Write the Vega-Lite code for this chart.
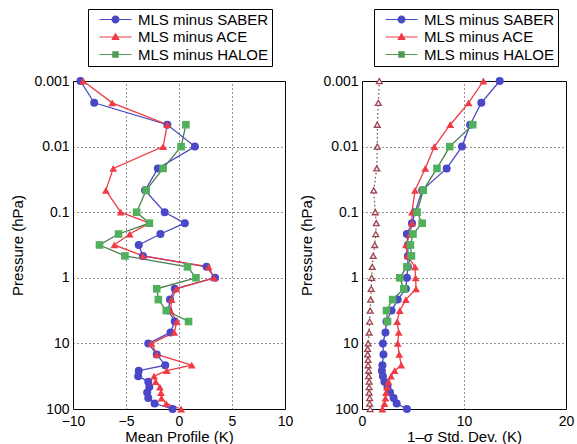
{
  "$schema": "https://vega.github.io/schema/vega-lite/v6.json",
  "background": "white",
  "padding": {"left": 10, "top": 8, "right": 0, "bottom": 0},
  "spacing": 5,
  "config": {
    "view": {"stroke": "black", "strokeWidth": 1},
    "axis": {
      "domain": false, "ticks": false, "grid": true,
      "gridDash": [1, 3], "gridColor": "#222", "gridWidth": 1,
      "labelFont": "Liberation Sans", "labelFontSize": 14, "labelColor": "black",
      "labelFlush": false, "labelOverlap": false, "labelPadding": 4,
      "titleFont": "Liberation Sans", "titleFontSize": 15, "titleFontWeight": "normal", "titleColor": "black"
    },
    "axisX": {"labelPadding": 5},
    "legend": {
      "orient": "none", "title": null,
      "strokeColor": "black", "fillColor": "white", "padding": 3,
      "labelFont": "Liberation Sans", "labelFontSize": 15, "labelColor": "black",
      "symbolSize": 100, "symbolOffset": 17, "labelOffset": 15, "rowPadding": 1.5,
      "symbolOpacity": 1, "symbolStrokeWidth": 0
    }
  },
  "datasets": {
    "mean": [
      {"series": "MLS minus SABER", "p": 0.001, "v": -9.3},
      {"series": "MLS minus SABER", "p": 0.00215, "v": -8.0},
      {"series": "MLS minus SABER", "p": 0.00464, "v": -1.1},
      {"series": "MLS minus SABER", "p": 0.01, "v": 1.5},
      {"series": "MLS minus SABER", "p": 0.0215, "v": -2.0},
      {"series": "MLS minus SABER", "p": 0.0464, "v": -3.2},
      {"series": "MLS minus SABER", "p": 0.1, "v": -1.35},
      {"series": "MLS minus SABER", "p": 0.147, "v": 0.55},
      {"series": "MLS minus SABER", "p": 0.215, "v": -1.75},
      {"series": "MLS minus SABER", "p": 0.316, "v": -3.8},
      {"series": "MLS minus SABER", "p": 0.464, "v": -3.4},
      {"series": "MLS minus SABER", "p": 0.681, "v": 2.6},
      {"series": "MLS minus SABER", "p": 1.0, "v": 3.4},
      {"series": "MLS minus SABER", "p": 1.47, "v": -0.4},
      {"series": "MLS minus SABER", "p": 2.15, "v": -0.85},
      {"series": "MLS minus SABER", "p": 3.16, "v": -1.0},
      {"series": "MLS minus SABER", "p": 4.64, "v": -0.4},
      {"series": "MLS minus SABER", "p": 6.81, "v": -0.8},
      {"series": "MLS minus SABER", "p": 10, "v": -2.9},
      {"series": "MLS minus SABER", "p": 14.7, "v": -2.1},
      {"series": "MLS minus SABER", "p": 21.5, "v": -1.3},
      {"series": "MLS minus SABER", "p": 26.1, "v": -3.8},
      {"series": "MLS minus SABER", "p": 31.6, "v": -3.85},
      {"series": "MLS minus SABER", "p": 38.3, "v": -2.9},
      {"series": "MLS minus SABER", "p": 46.4, "v": -2.8},
      {"series": "MLS minus SABER", "p": 56.2, "v": -3.0},
      {"series": "MLS minus SABER", "p": 68.1, "v": -2.9},
      {"series": "MLS minus SABER", "p": 82.5, "v": -2.3},
      {"series": "MLS minus SABER", "p": 100, "v": -0.6},
      {"series": "MLS minus ACE", "p": 0.001, "v": -9.05},
      {"series": "MLS minus ACE", "p": 0.00215, "v": -6.3},
      {"series": "MLS minus ACE", "p": 0.00464, "v": -1.1},
      {"series": "MLS minus ACE", "p": 0.01, "v": -1.5},
      {"series": "MLS minus ACE", "p": 0.0215, "v": -6.2},
      {"series": "MLS minus ACE", "p": 0.0464, "v": -6.9},
      {"series": "MLS minus ACE", "p": 0.1, "v": -5.5},
      {"series": "MLS minus ACE", "p": 0.147, "v": -2.8},
      {"series": "MLS minus ACE", "p": 0.215, "v": -4.65},
      {"series": "MLS minus ACE", "p": 0.316, "v": -6.1},
      {"series": "MLS minus ACE", "p": 0.464, "v": -3.4},
      {"series": "MLS minus ACE", "p": 0.681, "v": 2.8},
      {"series": "MLS minus ACE", "p": 1.0, "v": 3.3},
      {"series": "MLS minus ACE", "p": 1.47, "v": -0.25},
      {"series": "MLS minus ACE", "p": 2.15, "v": -0.7},
      {"series": "MLS minus ACE", "p": 3.16, "v": -0.8},
      {"series": "MLS minus ACE", "p": 4.64, "v": -0.2},
      {"series": "MLS minus ACE", "p": 6.81, "v": -0.45},
      {"series": "MLS minus ACE", "p": 10, "v": -2.6},
      {"series": "MLS minus ACE", "p": 14.7, "v": -2.1},
      {"series": "MLS minus ACE", "p": 21.5, "v": 1.2},
      {"series": "MLS minus ACE", "p": 26.1, "v": -1.15},
      {"series": "MLS minus ACE", "p": 31.6, "v": -2.35},
      {"series": "MLS minus ACE", "p": 38.3, "v": -2.2},
      {"series": "MLS minus ACE", "p": 46.4, "v": -1.8},
      {"series": "MLS minus ACE", "p": 56.2, "v": -1.7},
      {"series": "MLS minus ACE", "p": 68.1, "v": -1.65},
      {"series": "MLS minus ACE", "p": 82.5, "v": -1.2},
      {"series": "MLS minus ACE", "p": 100, "v": 0.2},
      {"series": "MLS minus HALOE", "p": 0.00464, "v": 0.65},
      {"series": "MLS minus HALOE", "p": 0.01, "v": 0.2},
      {"series": "MLS minus HALOE", "p": 0.0215, "v": -1.5},
      {"series": "MLS minus HALOE", "p": 0.0464, "v": -3.1},
      {"series": "MLS minus HALOE", "p": 0.1, "v": -4.0},
      {"series": "MLS minus HALOE", "p": 0.147, "v": -2.8},
      {"series": "MLS minus HALOE", "p": 0.215, "v": -5.7},
      {"series": "MLS minus HALOE", "p": 0.316, "v": -7.5},
      {"series": "MLS minus HALOE", "p": 0.464, "v": -5.1},
      {"series": "MLS minus HALOE", "p": 0.681, "v": 0.8},
      {"series": "MLS minus HALOE", "p": 1.0, "v": 1.6},
      {"series": "MLS minus HALOE", "p": 1.47, "v": -2.1},
      {"series": "MLS minus HALOE", "p": 2.15, "v": -1.95},
      {"series": "MLS minus HALOE", "p": 3.16, "v": -1.2},
      {"series": "MLS minus HALOE", "p": 4.64, "v": 0.9}
    ],
    "std": [
      {"series": "MLS minus SABER", "p": 0.001, "v": 13.5},
      {"series": "MLS minus SABER", "p": 0.00215, "v": 11.7},
      {"series": "MLS minus SABER", "p": 0.00464, "v": 10.6},
      {"series": "MLS minus SABER", "p": 0.01, "v": 9.8},
      {"series": "MLS minus SABER", "p": 0.0215, "v": 8.3},
      {"series": "MLS minus SABER", "p": 0.0464, "v": 5.9},
      {"series": "MLS minus SABER", "p": 0.1, "v": 5.2},
      {"series": "MLS minus SABER", "p": 0.147, "v": 4.9},
      {"series": "MLS minus SABER", "p": 0.215, "v": 4.4},
      {"series": "MLS minus SABER", "p": 0.316, "v": 4.5},
      {"series": "MLS minus SABER", "p": 0.464, "v": 4.5},
      {"series": "MLS minus SABER", "p": 0.681, "v": 4.5},
      {"series": "MLS minus SABER", "p": 1.0, "v": 4.4},
      {"series": "MLS minus SABER", "p": 1.47, "v": 4.3},
      {"series": "MLS minus SABER", "p": 2.15, "v": 3.5},
      {"series": "MLS minus SABER", "p": 3.16, "v": 2.9},
      {"series": "MLS minus SABER", "p": 4.64, "v": 2.4},
      {"series": "MLS minus SABER", "p": 6.81, "v": 2.3},
      {"series": "MLS minus SABER", "p": 10, "v": 2.05},
      {"series": "MLS minus SABER", "p": 14.7, "v": 2.1},
      {"series": "MLS minus SABER", "p": 21.5, "v": 2.0},
      {"series": "MLS minus SABER", "p": 26.1, "v": 1.95},
      {"series": "MLS minus SABER", "p": 31.6, "v": 2.05},
      {"series": "MLS minus SABER", "p": 38.3, "v": 2.2},
      {"series": "MLS minus SABER", "p": 46.4, "v": 2.5},
      {"series": "MLS minus SABER", "p": 56.2, "v": 2.75},
      {"series": "MLS minus SABER", "p": 68.1, "v": 3.1},
      {"series": "MLS minus SABER", "p": 82.5, "v": 3.4},
      {"series": "MLS minus SABER", "p": 100, "v": 4.4},
      {"series": "MLS minus ACE", "p": 0.001, "v": 11.9},
      {"series": "MLS minus ACE", "p": 0.00215, "v": 10.45},
      {"series": "MLS minus ACE", "p": 0.00464, "v": 8.65},
      {"series": "MLS minus ACE", "p": 0.01, "v": 7.1},
      {"series": "MLS minus ACE", "p": 0.0215, "v": 6.2},
      {"series": "MLS minus ACE", "p": 0.0464, "v": 5.2},
      {"series": "MLS minus ACE", "p": 0.1, "v": 4.9},
      {"series": "MLS minus ACE", "p": 0.147, "v": 4.9},
      {"series": "MLS minus ACE", "p": 0.215, "v": 4.7},
      {"series": "MLS minus ACE", "p": 0.316, "v": 4.3},
      {"series": "MLS minus ACE", "p": 0.464, "v": 4.45},
      {"series": "MLS minus ACE", "p": 0.681, "v": 5.2},
      {"series": "MLS minus ACE", "p": 1.0, "v": 5.25},
      {"series": "MLS minus ACE", "p": 1.47, "v": 5.3},
      {"series": "MLS minus ACE", "p": 2.15, "v": 4.3},
      {"series": "MLS minus ACE", "p": 3.16, "v": 3.7},
      {"series": "MLS minus ACE", "p": 4.64, "v": 3.45},
      {"series": "MLS minus ACE", "p": 6.81, "v": 3.6},
      {"series": "MLS minus ACE", "p": 10, "v": 3.5},
      {"series": "MLS minus ACE", "p": 14.7, "v": 3.65},
      {"series": "MLS minus ACE", "p": 21.5, "v": 3.85},
      {"series": "MLS minus ACE", "p": 26.1, "v": 3.2},
      {"series": "MLS minus ACE", "p": 31.6, "v": 2.85},
      {"series": "MLS minus ACE", "p": 38.3, "v": 2.6},
      {"series": "MLS minus ACE", "p": 46.4, "v": 2.45},
      {"series": "MLS minus ACE", "p": 56.2, "v": 2.35},
      {"series": "MLS minus ACE", "p": 68.1, "v": 2.3},
      {"series": "MLS minus ACE", "p": 82.5, "v": 2.2},
      {"series": "MLS minus ACE", "p": 100, "v": 2.0},
      {"series": "MLS minus HALOE", "p": 0.00464, "v": 10.85},
      {"series": "MLS minus HALOE", "p": 0.01, "v": 8.6},
      {"series": "MLS minus HALOE", "p": 0.0215, "v": 7.35},
      {"series": "MLS minus HALOE", "p": 0.0464, "v": 6.0},
      {"series": "MLS minus HALOE", "p": 0.1, "v": 5.4},
      {"series": "MLS minus HALOE", "p": 0.147, "v": 5.9},
      {"series": "MLS minus HALOE", "p": 0.215, "v": 5.0},
      {"series": "MLS minus HALOE", "p": 0.316, "v": 4.75},
      {"series": "MLS minus HALOE", "p": 0.464, "v": 4.85},
      {"series": "MLS minus HALOE", "p": 0.681, "v": 4.4},
      {"series": "MLS minus HALOE", "p": 1.0, "v": 3.7},
      {"series": "MLS minus HALOE", "p": 1.47, "v": 4.1},
      {"series": "MLS minus HALOE", "p": 2.15, "v": 3.0},
      {"series": "MLS minus HALOE", "p": 3.16, "v": 2.4},
      {"series": "MLS minus HALOE", "p": 4.64, "v": 2.5}
    ],
    "prec": [
      {"p": 0.001, "v": 1.7}, {"p": 0.00215, "v": 1.6}, {"p": 0.00464, "v": 1.5},
      {"p": 0.01, "v": 1.5}, {"p": 0.0215, "v": 1.45}, {"p": 0.0464, "v": 1.15},
      {"p": 0.1, "v": 1.3}, {"p": 0.147, "v": 1.4}, {"p": 0.215, "v": 1.35},
      {"p": 0.316, "v": 1.25}, {"p": 0.464, "v": 1.1}, {"p": 0.681, "v": 1.0},
      {"p": 1.0, "v": 0.95}, {"p": 1.47, "v": 0.9}, {"p": 2.15, "v": 0.85},
      {"p": 3.16, "v": 0.8}, {"p": 4.64, "v": 0.75}, {"p": 6.81, "v": 0.7},
      {"p": 10, "v": 0.6}, {"p": 12.1, "v": 0.55}, {"p": 14.7, "v": 0.55},
      {"p": 17.8, "v": 0.6}, {"p": 21.5, "v": 0.6}, {"p": 26.1, "v": 0.65},
      {"p": 31.6, "v": 0.65}, {"p": 38.3, "v": 0.7}, {"p": 46.4, "v": 0.7},
      {"p": 56.2, "v": 0.7}, {"p": 68.1, "v": 0.75}, {"p": 82.5, "v": 0.75},
      {"p": 100, "v": 0.8}
    ]
  },
  "hconcat": [
    {
      "width": 212, "height": 328,
      "resolve": {"scale": {"shape": "independent", "fill": "independent"}, "legend": {"shape": "independent", "fill": "independent"}},
      "layer": [
        {
          "data": {"name": "mean"},
          "mark": {"type": "line", "strokeWidth": 1.3},
          "encoding": {
            "x": {"field": "v", "type": "quantitative", "scale": {"domain": [-10, 10], "nice": false},
                  "axis": {"values": [-10, -5, 0, 5, 10], "title": "Mean Profile (K)", "titlePadding": 1}},
            "y": {"field": "p", "type": "quantitative", "sort": null,
                  "scale": {"type": "log", "domain": [0.001, 100], "nice": false, "reverse": true},
                  "axis": {"values": [0.001, 0.01, 0.1, 1, 10, 100], "format": "~g", "title": "Pressure (hPa)", "titlePadding": 8}},
            "order": {"field": "p", "type": "quantitative"},
            "stroke": {"field": "series", "type": "nominal",
                       "scale": {"domain": ["MLS minus SABER", "MLS minus ACE", "MLS minus HALOE"], "range": ["#4848c0", "#f03a44", "#4c7f4c"]},
                       "legend": null}
          }
        },
        {
          "data": {"name": "mean"},
          "mark": {"type": "point", "filled": true, "opacity": 1},
          "encoding": {
            "x": {"field": "v", "type": "quantitative"},
            "y": {"field": "p", "type": "quantitative"},
            "fill": {"field": "series", "type": "nominal",
                     "scale": {"domain": ["MLS minus SABER", "MLS minus ACE", "MLS minus HALOE"], "range": ["#4848c8", "#f03a44", "#52b05c"]},
                     "legend": null},
            "shape": {"field": "series", "type": "nominal",
                      "scale": {"domain": ["MLS minus SABER", "MLS minus ACE", "MLS minus HALOE"], "range": ["circle", "triangle-up", "square"]},
                      "legend": null},
            "size": {"field": "series", "type": "nominal",
                     "scale": {"domain": ["MLS minus SABER", "MLS minus ACE", "MLS minus HALOE"], "range": [64, 58, 44]},
                     "legend": null}
          }
        },
        {
          "data": {"name": "mean"},
          "mark": {"type": "point", "filled": true, "opacity": 0, "size": 100, "strokeWidth": 0},
          "encoding": {
            "x": {"field": "v", "type": "quantitative"},
            "y": {"field": "p", "type": "quantitative"},
            "fill": {"field": "series", "type": "nominal",
                     "scale": {"domain": ["MLS minus SABER", "MLS minus ACE", "MLS minus HALOE"], "range": ["#4848c8", "#f03a44", "#4f9a55"]},
                     "legend": {"legendX": 15, "legendY": -72}},
            "shape": {"field": "series", "type": "nominal",
                      "scale": {"domain": ["MLS minus SABER", "MLS minus ACE", "MLS minus HALOE"],
                                "range": ["M-3.2,-0.12L-0.7,-0.12L-0.7,0.12L-3.2,0.12ZM0.7,-0.12L3.2,-0.12L3.2,0.12L0.7,0.12ZM-0.8,0A0.8,0.8 0 1 1 0.8,0A0.8,0.8 0 1 1 -0.8,0Z",
                                          "M-3.2,-0.12L-0.45,-0.12L-0.45,0.12L-3.2,0.12ZM0.45,-0.12L3.2,-0.12L3.2,0.12L0.45,0.12ZM0,-0.9L0.85,0.6L-0.85,0.6Z",
                                          "M-3.2,-0.12L-0.6,-0.12L-0.6,0.12L-3.2,0.12ZM0.6,-0.12L3.2,-0.12L3.2,0.12L0.6,0.12ZM-0.65,-0.65L0.65,-0.65L0.65,0.65L-0.65,0.65Z"]},
                      "legend": {"legendX": 15, "legendY": -72}}
          }
        }
      ]
    },
    {
      "width": 204, "height": 328,
      "resolve": {"scale": {"shape": "independent", "fill": "independent"}, "legend": {"shape": "independent", "fill": "independent"}},
      "layer": [
        {
          "data": {"name": "prec"},
          "mark": {"type": "line", "strokeWidth": 1.2, "strokeDash": [1.5, 2.5], "color": "#6e4a40"},
          "encoding": {
            "x": {"field": "v", "type": "quantitative", "scale": {"domain": [0, 20], "nice": false},
                  "axis": {"values": [0, 10, 20], "title": "1–σ Std. Dev. (K)", "titlePadding": 1}},
            "y": {"field": "p", "type": "quantitative", "sort": null,
                  "scale": {"type": "log", "domain": [0.001, 100], "nice": false, "reverse": true},
                  "axis": {"values": [0.001, 0.01, 0.1, 1, 10, 100], "format": "~g", "title": "Pressure (hPa)", "titlePadding": 8}},
            "order": {"field": "p", "type": "quantitative"}
          }
        },
        {
          "data": {"name": "prec"},
          "mark": {"type": "point", "shape": "triangle-up", "filled": true, "fill": "#fbe8e8", "stroke": "#9a4452", "strokeWidth": 1.3, "size": 34, "opacity": 1},
          "encoding": {
            "x": {"field": "v", "type": "quantitative"},
            "y": {"field": "p", "type": "quantitative"}
          }
        },
        {
          "data": {"name": "std"},
          "mark": {"type": "line", "strokeWidth": 1.3},
          "encoding": {
            "x": {"field": "v", "type": "quantitative"},
            "y": {"field": "p", "type": "quantitative"},
            "order": {"field": "p", "type": "quantitative"},
            "stroke": {"field": "series", "type": "nominal",
                       "scale": {"domain": ["MLS minus SABER", "MLS minus ACE", "MLS minus HALOE"], "range": ["#4848c0", "#f03a44", "#4c7f4c"]},
                       "legend": null}
          }
        },
        {
          "data": {"name": "std"},
          "mark": {"type": "point", "filled": true, "opacity": 1},
          "encoding": {
            "x": {"field": "v", "type": "quantitative"},
            "y": {"field": "p", "type": "quantitative"},
            "fill": {"field": "series", "type": "nominal",
                     "scale": {"domain": ["MLS minus SABER", "MLS minus ACE", "MLS minus HALOE"], "range": ["#4848c8", "#f03a44", "#52b05c"]},
                     "legend": null},
            "shape": {"field": "series", "type": "nominal",
                      "scale": {"domain": ["MLS minus SABER", "MLS minus ACE", "MLS minus HALOE"], "range": ["circle", "triangle-up", "square"]},
                      "legend": null},
            "size": {"field": "series", "type": "nominal",
                     "scale": {"domain": ["MLS minus SABER", "MLS minus ACE", "MLS minus HALOE"], "range": [64, 58, 44]},
                     "legend": null}
          }
        },
        {
          "data": {"name": "std"},
          "mark": {"type": "point", "filled": true, "opacity": 0, "size": 100, "strokeWidth": 0},
          "encoding": {
            "x": {"field": "v", "type": "quantitative"},
            "y": {"field": "p", "type": "quantitative"},
            "fill": {"field": "series", "type": "nominal",
                     "scale": {"domain": ["MLS minus SABER", "MLS minus ACE", "MLS minus HALOE"], "range": ["#4848c8", "#f03a44", "#4f9a55"]},
                     "legend": {"legendX": 12, "legendY": -72}},
            "shape": {"field": "series", "type": "nominal",
                      "scale": {"domain": ["MLS minus SABER", "MLS minus ACE", "MLS minus HALOE"],
                                "range": ["M-3.2,-0.12L-0.7,-0.12L-0.7,0.12L-3.2,0.12ZM0.7,-0.12L3.2,-0.12L3.2,0.12L0.7,0.12ZM-0.8,0A0.8,0.8 0 1 1 0.8,0A0.8,0.8 0 1 1 -0.8,0Z",
                                          "M-3.2,-0.12L-0.45,-0.12L-0.45,0.12L-3.2,0.12ZM0.45,-0.12L3.2,-0.12L3.2,0.12L0.45,0.12ZM0,-0.9L0.85,0.6L-0.85,0.6Z",
                                          "M-3.2,-0.12L-0.6,-0.12L-0.6,0.12L-3.2,0.12ZM0.6,-0.12L3.2,-0.12L3.2,0.12L0.6,0.12ZM-0.65,-0.65L0.65,-0.65L0.65,0.65L-0.65,0.65Z"]},
                      "legend": {"legendX": 12, "legendY": -72}}
          }
        }
      ]
    }
  ]
}
